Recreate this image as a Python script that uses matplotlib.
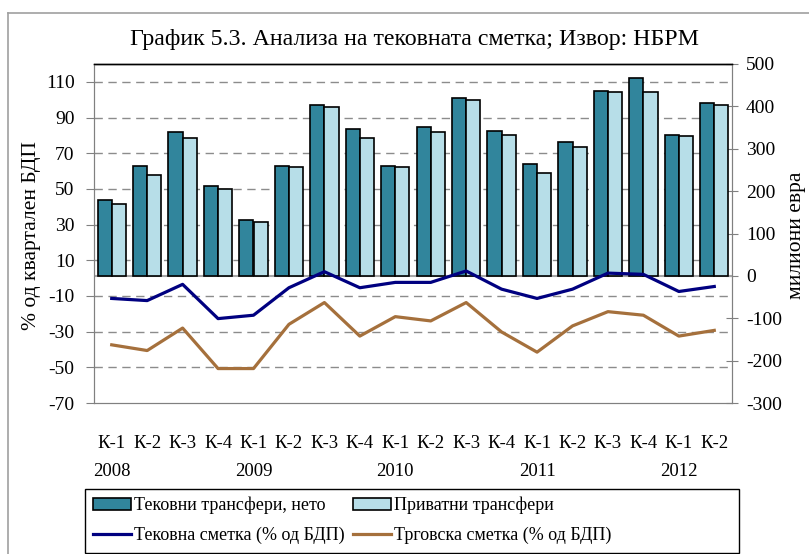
import numpy as np
import matplotlib.pyplot as plt
from matplotlib.transforms import blended_transform_factory
from matplotlib.patches import Patch, Rectangle
from matplotlib.lines import Line2D

plt.rcParams["font.family"] = ["Liberation Serif", "DejaVu Serif"]
plt.rcParams["axes.unicode_minus"] = False

quarters = ["К-1", "К-2", "К-3", "К-4"] * 4 + ["К-1", "К-2"]
years = ["2008", "2009", "2010", "2011", "2012"]

# millions of euro (right axis)
current_transfers = [179, 260, 339, 213, 132, 260, 403, 347, 260,
                     351, 420, 343, 265, 317, 437, 467, 333, 408]
private_transfers = [169, 239, 325, 205, 127, 256, 398, 325, 256,
                     339, 416, 333, 243, 304, 433, 433, 329, 403]
# % of quarterly GDP (left axis)
current_account = [-11.4, -12.6, -3.5, -22.7, -20.8, -5.4, 3.6, -5.4, -2.4,
                   -2.4, 4.0, -6.2, -11.4, -6.2, 2.8, 2.1, -7.5, -4.7]
trade_balance = [-37.4, -40.6, -28.0, -50.7, -50.7, -25.9, -13.7, -32.5, -21.6,
                 -24.0, -13.7, -30.2, -41.5, -26.8, -18.8, -20.8, -32.5, -29.3]

dark = "#31859C"
light = "#B7DEE8"
navy = "#000080"
brown = "#A5703C"
grey = "#808080"

fig = plt.figure(figsize=(8.09, 5.54), dpi=100)
ax = fig.add_axes([94 / 809, 1 - 403 / 554, (732 - 94) / 809, (403 - 64) / 554])
axl = ax.twinx()

x = np.arange(len(quarters))
w = 0.4
ax.bar(x - w / 2, current_transfers, w, color=dark, edgecolor="black", linewidth=1.2, zorder=3)
ax.bar(x + w / 2, private_transfers, w, color=light, edgecolor="black", linewidth=1.2, zorder=3)
ax.set_ylim(-300, 500)
ax.set_yticks(np.arange(-300, 501, 100))
ax.set_xlim(-0.5, len(quarters) - 0.5)
ax.axhline(0, color="#A6A6A6", linewidth=1.5, zorder=2)

axl.plot(x, current_account, color=navy, linewidth=2.3, zorder=4)
axl.plot(x, trade_balance, color=brown, linewidth=2.3, zorder=4)
axl.set_ylim(-70, 120)
left_ticks = np.arange(-70, 111, 20)
axl.set_yticks(left_ticks)

# dashed grid at left-axis ticks, drawn under the bars
tr = blended_transform_factory(ax.transAxes, axl.transData)
ax.hlines(left_ticks[1:], 0, 1, transform=tr, colors="#8C8C8C",
          linestyles=(0, (6, 4)), linewidth=1.0, zorder=1)

# axis sides
ax.yaxis.tick_right()
axl.yaxis.tick_left()
for a in (ax, axl):
    a.spines["left"].set_color(grey)
    a.spines["right"].set_color(grey)
    a.spines["bottom"].set_color(grey)
    a.spines["top"].set_color("black")
    a.spines["top"].set_linewidth(1.0)
ax.tick_params(axis="y", direction="inout", length=8, color=grey, labelsize=14, pad=6)
axl.tick_params(axis="y", direction="out", length=6, color=grey, labelsize=14, pad=8)

ax.set_xticks(x)
ax.set_xticklabels(quarters, fontsize=13.5)
ax.tick_params(axis="x", length=0, pad=23)

for i, yr in enumerate(years):
    ax.annotate(yr, xy=(i * 4, 0), xycoords=("data", "axes fraction"),
                xytext=(0, -69), textcoords="offset pixels",
                ha="center", va="center", fontsize=13.5)

fig.text(32 / 809, 1 - 236 / 554, "% од квартален БДП", rotation=90,
         ha="center", va="center", fontsize=15.5)
fig.text(797 / 809, 1 - 235 / 554, "милиони евра", rotation=90,
         ha="center", va="center", fontsize=15.5)
fig.text(414 / 809, 1 - 40 / 554, "График 5.3. Анализа на тековната сметка; Извор: НБРМ",
         ha="center", va="center", fontsize=17.2)

handles = [Patch(facecolor=dark, edgecolor="black", linewidth=1.2),
           Line2D([], [], color=navy, linewidth=2.3),
           Patch(facecolor=light, edgecolor="black", linewidth=1.2),
           Line2D([], [], color=brown, linewidth=2.3)]
labels = ["Тековни трансфери, нето", "Тековна сметка (% од БДП)",
          "Приватни трансфери", "Трговска сметка (% од БДП)"]
leg = fig.legend(handles, labels, ncol=2, loc="upper left", fontsize=13,
                 bbox_to_anchor=(93 / 809, 1 - 497 / 554), borderaxespad=0,
                 frameon=False, borderpad=0, handlelength=2.1, handleheight=0.65,
                 handletextpad=0.15, labelspacing=0.7, columnspacing=0.5)
fig.add_artist(Rectangle((85 / 809, 1 - 553 / 554), 654 / 809, 64 / 554,
                         transform=fig.transFigure, fill=False,
                         edgecolor="black", linewidth=1.0))

# outer border of the chart area
fig.add_artist(Line2D([8 / 809, 8 / 809], [0, 1 - 13 / 554], color="#A0A0A0",
                      linewidth=1.2, transform=fig.transFigure))
fig.add_artist(Line2D([8 / 809, 1], [1 - 13 / 554, 1 - 13 / 554], color="#A0A0A0",
                      linewidth=1.2, transform=fig.transFigure))

fig.savefig("out.png", dpi=100)
